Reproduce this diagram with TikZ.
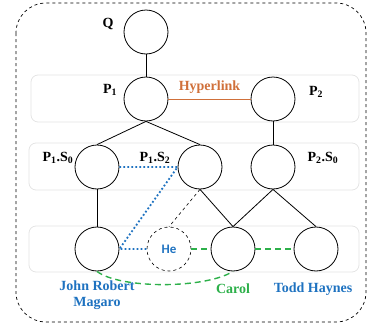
\documentclass[tikz,border=0pt]{standalone}
\usepackage{fontspec}
\setmainfont{Liberation Serif}
\newfontfamily\hefont{Carlito}
\definecolor{linkorange}{RGB}{208,112,58}
\definecolor{entblue}{RGB}{30,114,192}
\definecolor{corefgreen}{RGB}{45,176,74}
\definecolor{bandgray}{RGB}{228,228,228}

\begin{document}
\begin{tikzpicture}[x=1pt,y=-1pt,
  ent/.style={circle, draw, minimum size=44pt, inner sep=0pt, line width=0.8pt},
  lbl/.style={font=\bfseries\fontsize{14}{16}\selectfont},
  band/.style={draw=bandgray, rounded corners=7pt, line width=0.8pt},
  coref/.style={corefgreen, line width=1.4pt, dash pattern=on 6pt off 4pt},
  alignlink/.style={entblue, line width=1.8pt, dash pattern=on 1.8pt off 2.2pt}]
\useasboundingbox (0,0) rectangle (368,327);

% outer frame and bands
\draw [dashed, line width=0.7pt, rounded corners=30pt] (16,3) rectangle (366,322);
\draw [band] (31,75) rectangle (359,122);
\draw [band] (29,143) rectangle (359,190);
\draw [band] (29,226) rectangle (359,272);

% nodes
\node [ent] (q) at (146,32) {};
\node [ent] (p1) at (146,99) {};
\node [ent] (p2) at (273,99) {};
\node [ent] (p1s0) at (97,167) {};
\node [ent] (p1s2) at (200,167) {};
\node [ent] (p2s0) at (273,167) {};
\node [ent] (jrm) at (97,249) {};
\node [ent, dashed, line width=0.6pt, text=entblue, font=\hefont\bfseries\fontsize{13}{15}\selectfont] (he) at (169,249) {He};
\node [ent] (carol) at (233,249) {};
\node [ent] (todd) at (316,249) {};

% labels
\node [lbl] at (108,24) {Q};
\node [lbl] at (110,90) {P\textsubscript{1}};
\node [lbl] at (316,92) {P\textsubscript{2}};
\node [lbl] at (58,158) {P\textsubscript{1}.S\textsubscript{0}};
\node [lbl] at (155,158) {P\textsubscript{1}.S\textsubscript{2}};
\node [lbl] at (323,158) {P\textsubscript{2}.S\textsubscript{0}};
\node [lbl, entblue, align=center] at (97,295) {John Robert\\Magaro};
\node [lbl, corefgreen] at (233,289) {Carol};
\node [lbl, entblue] at (313,289) {Todd Haynes};

% tree edges
\draw [line width=0.8pt] (q) -- (p1);
\draw [line width=0.8pt] (p1.south) -- (p1s0.north);
\draw [line width=0.8pt] (p1.south) -- (p1s2.north);
\draw [line width=0.8pt] (p2) -- (p2s0);
\draw [line width=0.8pt] (p1s0) -- (jrm);
\draw [line width=0.8pt] (p1s2.south) -- (carol.north);
\draw [line width=0.8pt] (p2s0.south) -- (carol.north);
\draw [line width=0.8pt] (p2s0.south) -- (todd.north);
\draw [dashed, line width=0.6pt] (p1s2.south) -- (he.north);

% hyperlink
\draw [linkorange, line width=1pt] (p1) -- node [above=2pt, font=\bfseries\fontsize{14}{16}\selectfont] {Hyperlink} (p2);

% alignment and coreference
\draw [alignlink] (p1s0.east) -- (p1s2.west) -- (jrm.east) -- (he.west);
\draw [coref] (he) -- (carol);
\draw [coref] (carol) -- (todd);
\draw [coref] (jrm.south) .. controls (120,289) and (205,289) .. (carol.south);

\end{tikzpicture}
\end{document}
